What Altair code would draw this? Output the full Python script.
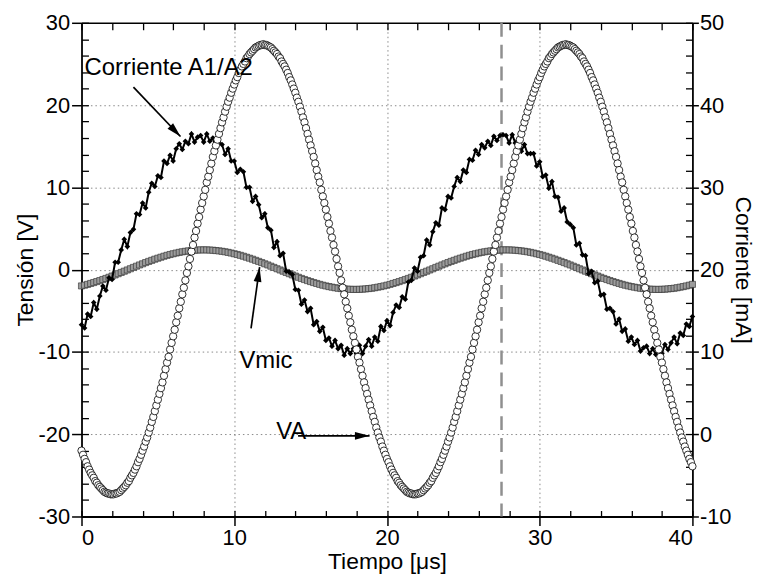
import altair as alt
import numpy as np
import pandas as pd

FONT = "Liberation Sans"

# ---------------- data ----------------
# VA (left axis, V), sampled every 0.1 us from t = 0
va_dt = 0.1
va_v = [
    -22.0,-22.5,-23.0,-23.4,-23.9,-24.3,-24.7,-25.0,-25.3,-25.7,-25.9,-26.2,-26.4,-26.6,-26.8,-27.0,-27.1,-27.2,-27.2,-27.3,
    -27.3,-27.3,-27.2,-27.2,-27.1,-27.0,-26.8,-26.6,-26.4,-26.2,
    -25.9,-25.7,-25.3,-25.0,-24.7,-24.3,-23.9,-23.4,-23.0,-22.5,
    -22.0,-21.5,-20.9,-20.4,-19.8,-19.2,-18.5,-17.9,-17.2,-16.5,
    -15.8,-15.1,-14.4,-13.7,-12.9,-12.1,-11.3,-10.6,-9.7,-8.9,
    -8.1,-7.3,-6.4,-5.6,-4.7,-3.9,-3.0,-2.2,-1.3,-0.4,
    0.4,1.3,2.2,3.0,3.9,4.7,5.6,6.4,7.3,8.1,
    8.9,9.7,10.6,11.3,12.1,12.9,13.7,14.4,15.1,15.8,
    16.5,17.2,17.9,18.5,19.2,19.8,20.4,20.9,21.5,22.0,
    22.5,23.0,23.4,23.9,24.3,24.7,25.0,25.3,25.7,25.9,
    26.2,26.4,26.6,26.8,27.0,27.1,27.2,27.3,27.3,27.4,
    27.3,27.3,27.2,27.1,27.0,26.8,26.6,26.4,26.2,25.9,
    25.7,25.3,25.0,24.7,24.3,23.9,23.4,23.0,22.5,22.0,
    21.5,20.9,20.4,19.8,19.2,18.5,17.9,17.2,16.5,15.8,
    15.1,14.4,13.7,12.9,12.1,11.3,10.6,9.7,8.9,8.1,
    7.3,6.4,5.6,4.7,3.9,3.0,2.2,1.3,0.4,-0.4,
    -1.3,-2.2,-3.0,-3.9,-4.7,-5.6,-6.4,-7.3,-8.1,-8.9,
    -9.7,-10.6,-11.3,-12.1,-12.9,-13.7,-14.4,-15.1,-15.8,-16.5,
    -17.2,-17.9,-18.5,-19.2,-19.8,-20.4,-20.9,-21.5,-22.0,-22.5,
    -23.0,-23.4,-23.9,-24.3,-24.7,-25.0,-25.3,-25.7,-25.9,-26.2,
    -26.4,-26.6,-26.8,-27.0,-27.1,-27.2,-27.2,-27.3,
    -27.3,
    -27.3,-27.2,-27.2,-27.1,-27.0,-26.8,-26.6,-26.4,-26.2,
    -25.9,-25.7,-25.3,-25.0,-24.7,-24.3,-23.9,-23.4,-23.0,-22.5,
    -22.0,-21.5,-20.9,-20.4,-19.8,-19.2,-18.5,-17.9,-17.2,-16.5,
    -15.8,-15.1,-14.4,-13.7,-12.9,-12.1,-11.3,-10.6,-9.7,-8.9,
    -8.1,-7.3,-6.4,-5.6,-4.7,-3.9,-3.0,-2.2,-1.3,-0.4,
    0.4,1.3,2.2,3.0,3.9,4.7,5.6,6.4,7.3,8.1,
    8.9,9.7,10.6,11.3,12.1,12.9,13.7,14.4,15.1,15.8,
    16.5,17.2,17.9,18.5,19.2,19.8,20.4,20.9,21.5,22.0,
    22.5,23.0,23.4,23.9,24.3,24.7,25.0,25.3,25.7,25.9,
    26.2,26.4,26.6,26.8,27.0,27.1,27.2,27.3,27.3,27.4,
    27.3,27.3,27.2,27.1,27.0,26.8,26.6,26.4,26.2,25.9,
    25.7,25.3,25.0,24.7,24.3,23.9,23.4,23.0,22.5,22.0,
    21.5,20.9,20.4,19.8,19.2,18.5,17.9,17.2,16.5,15.8,
    15.1,14.4,13.7,12.9,12.1,11.3,10.6,9.7,8.9,8.1,
    7.3,6.4,5.6,4.7,3.9,3.0,2.2,1.3,0.4,-0.4,
    -1.3,-2.2,-3.0,-3.9,-4.7,-5.6,-6.4,-7.3,-8.1,-8.9,
    -9.7,-10.6,-11.3,-12.1,-12.9,-13.7,-14.4,-15.1,-15.8,-16.5,
    -17.2,-17.9,-18.5,-19.2,-19.8,-20.4,-20.9,-21.5,-22.0,-22.5,
    -23.0,-23.4,-23.9,
]

# Vmic (left axis, V), sampled every 0.2 us from t = 0
vmic_dt = 0.2
vmic_v = [
    -1.98,-1.89,-1.79,-1.68,-1.57,-1.45,-1.33,-1.20,-1.07,-0.93,-0.78,-0.64,-0.49,-0.34,-0.19,-0.04,0.11,0.27,0.42,0.57,
    0.71,0.86,1.00,1.13,1.27,1.39,1.51,1.63,1.74,1.84,1.93,2.02,2.10,2.17,2.23,2.28,2.32,2.36,2.38,2.40,
    2.40,
    2.40,2.38,2.36,2.32,2.28,2.23,2.17,2.10,2.02,1.93,1.84,1.74,1.63,1.51,1.39,1.27,1.13,1.00,0.86,0.71,
    0.57,0.42,0.27,0.11,-0.04,-0.19,-0.34,-0.49,-0.64,-0.78,-0.93,-1.07,-1.20,-1.33,-1.45,-1.57,-1.68,-1.79,-1.89,-1.98,
    -2.06,-2.13,-2.20,-2.26,-2.30,-2.34,-2.37,-2.39,-2.40,
    -2.40,-2.39,-2.37,-2.34,-2.30,-2.26,-2.20,-2.13,-2.06,-1.98,-1.89,-1.79,-1.68,-1.57,-1.45,-1.33,-1.20,-1.07,-0.93,-0.78,
    -0.64,-0.49,-0.34,-0.19,-0.04,0.11,0.27,0.42,0.57,0.71,0.86,1.00,1.13,1.27,1.39,1.51,1.63,1.74,1.84,1.93,
    2.02,2.10,2.17,2.23,2.28,2.32,2.36,2.38,2.40,
    2.40,
    2.40,2.38,2.36,2.32,2.28,2.23,2.17,2.10,2.02,1.93,1.84,1.74,1.63,1.51,1.39,1.27,1.13,1.00,0.86,0.71,
    0.57,0.42,0.27,0.11,-0.04,-0.19,-0.34,-0.49,-0.64,-0.78,-0.93,-1.07,-1.20,-1.33,-1.45,-1.57,-1.68,-1.79,-1.89,-1.98,
    -2.06,-2.13,-2.20,-2.26,-2.30,-2.34,-2.37,-2.39,-2.40,
    -2.40,-2.39,-2.37,-2.34,-2.30,-2.26,-2.20,-2.13,-2.06,-1.98,-1.89,-1.79,
]

# Corriente A1/A2 (right axis, mA), sampled every 0.2 us from t = 0
cur_dt = 0.2
cur_ma = [
    13.3,12.9,14.6,14.3,16.0,15.2,16.8,18.0,17.5,19.0,18.8,20.9,20.9,22.4,23.7,22.8,24.5,24.9,26.8,26.7,
    28.1,27.5,29.4,30.5,30.1,31.4,31.2,33.2,32.9,33.9,33.2,34.7,35.3,34.6,35.6,35.3,36.5,35.5,36.1,
    36.3,
    35.5,36.5,35.6,36.0,34.7,35.4,35.2,34.0,34.7,33.2,33.2,31.8,32.2,31.9,30.0,30.0,28.3,28.9,27.9,26.3,
    26.8,25.1,24.8,22.7,23.4,21.7,22.0,19.8,19.7,19.4,17.6,17.5,15.8,16.3,14.9,15.3,13.3,13.7,12.5,13.0,
    11.4,11.7,10.7,11.4,10.4,10.8,9.6,10.4,9.8,
    10.4,9.8,10.8,9.8,10.7,11.5,10.7,11.8,11.3,13.1,12.6,13.8,13.2,14.8,15.7,15.4,16.7,16.4,18.5,18.7,
    20.2,19.8,21.5,21.7,23.6,23.0,24.6,25.7,25.4,27.5,27.3,28.9,28.7,30.1,31.2,30.7,32.1,31.8,33.4,33.3,
    34.5,34.0,35.2,34.8,35.6,35.1,36.2,35.7,36.3,
    36.4,
    36.3,35.4,36.4,35.4,35.8,34.4,35.2,34.1,34.1,34.1,32.6,33.1,31.3,31.5,29.9,30.7,28.9,28.8,27.1,27.5,
    25.8,25.5,25.1,23.0,23.2,21.8,21.7,19.5,19.8,18.4,18.6,16.9,17.0,15.2,15.3,14.9,13.4,14.0,12.5,12.8,
    11.3,11.8,10.9,11.4,10.1,10.5,10.7,9.8,10.4,
    9.7,10.6,9.8,10.9,10.3,11.1,11.8,11.0,12.3,12.0,13.4,13.1,14.3,
]

cursor_t = [27.5]

# annotations (data units of the left axis)
label_text = ["Corriente A1/A2", "Vmic", "VA"]
label_t = [0.2, 10.34, 12.75]
label_v = [23.7, -11.9, -20.6]

arrow_id = ["a", "a", "b", "b", "c", "c"]
arrow_t = [3.40, 6.48, 11.10, 11.66, 14.18, 18.86]
arrow_v = [22.19, 16.18, -7.15, 0.3, -20.2, -20.2]
head_t = [6.48, 11.66, 18.86]
head_v = [16.18, 0.3, -20.2]
head_angle = [136, 8, 90]

# axis tick values
x_major = [0, 10, 20, 30, 40]
x_grid = [10, 20, 30]
x_minor = list(range(0, 41, 2))
yl_major = [-30, -20, -10, 0, 10, 20, 30]
yl_grid = [-20, -10, 0, 10, 20]
yl_minor = list(range(-30, 31, 2))
yr_major = [-10, 0, 10, 20, 30, 40, 50]
yr_minor = list(range(-10, 51, 2))

# ---------------- tables ----------------
df_va = pd.DataFrame({"t": np.round(np.arange(len(va_v)) * va_dt, 3), "V": va_v})
df_vmic = pd.DataFrame({"t": np.round(np.arange(len(vmic_v)) * vmic_dt, 3), "V": vmic_v})
df_cur = pd.DataFrame({"t": np.round(np.arange(len(cur_ma)) * cur_dt, 3), "mA": cur_ma})
df_cursor = pd.DataFrame({"t": cursor_t})
df_lab = pd.DataFrame({"t": label_t, "V": label_v, "label": label_text})
df_arr = pd.DataFrame({"id": arrow_id, "t": arrow_t, "V": arrow_v})
df_head = pd.DataFrame({"t": head_t, "V": head_v, "ang": head_angle})

xs = alt.Scale(domain=[0, 40], nice=False, zero=False)
yls = alt.Scale(domain=[-30, 30], nice=False, zero=False)
yrs = alt.Scale(domain=[-10, 50], nice=False, zero=False)

LBL = "'' + datum.value"

x_main = alt.Axis(orient="bottom", values=x_major, title="Tiempo [μs]", tickSize=9,
                  labelPadding=2, grid=False, labelExpr=LBL, titleY=52,
                  titleBaseline="alphabetic", domainWidth=1.8, tickWidth=1.5)
x_gridax = alt.Axis(orient="bottom", values=x_grid, grid=True, ticks=False, labels=False,
                    domain=False, title=None)
x_minor_b = alt.Axis(orient="bottom", values=x_minor, offset=-6, tickSize=6, labels=False,
                     domain=False, grid=False, title=None)
x_top_dom = alt.Axis(orient="top", values=x_minor, ticks=False, labels=False, domain=True,
                     grid=False, title=None, domainWidth=1.5)
x_minor_t = alt.Axis(orient="top", values=x_minor, offset=-7, tickSize=7, labels=False,
                     domain=False, grid=False, title=None)

y_left = alt.Axis(orient="left", values=yl_major, title="Tensión [V]", tickSize=10,
                  labelPadding=2, grid=False, labelExpr=LBL, titlePadding=1,
                  domainWidth=1.8, tickWidth=1.5)
y_left_grid = alt.Axis(orient="left", values=yl_grid, grid=True, ticks=False, labels=False,
                       domain=False, title=None)
y_left_minor = alt.Axis(orient="left", values=yl_minor, offset=-7, tickSize=7, labels=False,
                        domain=False, grid=False, title=None)
y_right = alt.Axis(orient="right", values=yr_major, title="Corriente [mA]", tickSize=6,
                   labelPadding=1, grid=False, labelExpr=LBL, titlePadding=0, titleAngle=90,
                   domainWidth=1.8, tickWidth=1.5, titleFontSize=23)
y_right_minor = alt.Axis(orient="right", values=yr_minor, offset=-7, tickSize=7, labels=False,
                         domain=False, grid=False, title=None)

# ---------------- layers ----------------
cursor = alt.Chart(df_cursor).mark_rule(color="#8f8f8f", strokeWidth=2.5, strokeDash=[14, 8]).encode(
    x=alt.X("t:Q", scale=xs, axis=x_minor_b)
)
vmic = alt.Chart(df_vmic).mark_point(shape="square", filled=True, fill="#9c9c9c", stroke="#2a2a2a",
                                     strokeWidth=0.6, size=38, opacity=1).encode(
    x=alt.X("t:Q", scale=xs, axis=x_gridax),
    y=alt.Y("V:Q", scale=yls, axis=y_left_grid),
)
g1 = alt.layer(cursor, vmic).resolve_axis(x="independent", y="independent")

cur_line = alt.Chart(df_cur).mark_line(color="black", strokeWidth=2).encode(
    x=alt.X("t:Q", scale=xs, axis=None),
    y=alt.Y("mA:Q", scale=yrs, axis=y_right),
)
cur_pts = alt.Chart(df_cur).mark_point(shape="diamond", filled=True, color="black", size=32, opacity=1).encode(
    x=alt.X("t:Q", scale=xs, axis=None),
    y=alt.Y("mA:Q", scale=yrs, axis=y_right_minor),
)
g2 = alt.layer(cur_line, cur_pts).resolve_axis(x="independent", y="independent")

va = alt.Chart(df_va).mark_point(shape="circle", filled=False, fill="white", stroke="black",
                                 strokeWidth=0.8, size=55, opacity=1).encode(
    x=alt.X("t:Q", scale=xs, axis=x_main),
    y=alt.Y("V:Q", scale=yls, axis=y_left),
)
arrows = alt.Chart(df_arr).mark_line(color="black", strokeWidth=1.7).encode(
    x=alt.X("t:Q", scale=xs, axis=x_top_dom),
    y=alt.Y("V:Q", scale=yls, axis=y_left_minor),
    detail="id:N",
)
heads = alt.Chart(df_head).mark_point(shape="M0,0L0.45,1.7L-0.45,1.7Z", filled=True, color="black",
                                      size=300, opacity=1).encode(
    x=alt.X("t:Q", scale=xs, axis=x_minor_t),
    y=alt.Y("V:Q", scale=yls, axis=None),
    angle=alt.Angle("ang:Q", scale=None),
)
texts = alt.Chart(df_lab).mark_text(align="left", baseline="alphabetic", font=FONT, fontSize=24,
                                    color="black").encode(
    x=alt.X("t:Q", scale=xs, axis=None),
    y=alt.Y("V:Q", scale=yls, axis=None),
    text="label:N",
)
g3 = alt.layer(va, arrows, heads, texts).resolve_axis(x="independent", y="independent")

chart = (
    alt.layer(g1, g2, g3)
    .resolve_scale(y="independent")
    .resolve_axis(x="independent", y="independent")
    .properties(width=615, height=497, autosize="none",
                padding={"left": 74, "top": 13, "right": 64, "bottom": 56},
                background="white")
    .configure_view(stroke=None)
    .configure_axis(labelFont=FONT, titleFont=FONT, labelFontSize=22, titleFontSize=23,
                    labelColor="black", titleColor="black", tickColor="black", domainColor="black",
                    titleFontWeight="normal", gridColor="#8a8a8a", gridDash=[1.5, 3], gridWidth=1,
                    tickWidth=1.3)
)

chart.save("out.html", embed_options={"renderer": "svg", "actions": False})
